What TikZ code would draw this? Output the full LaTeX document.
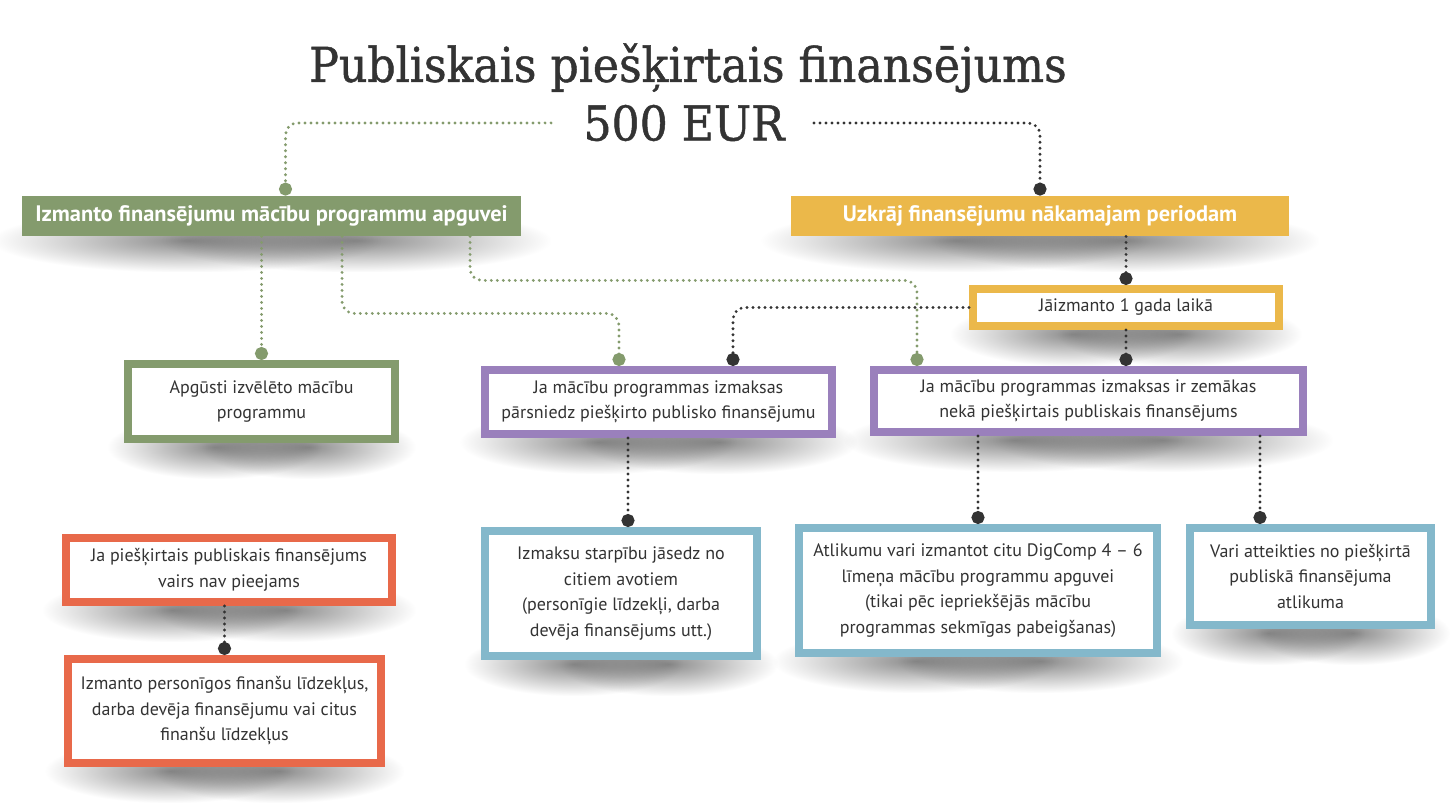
\documentclass[tikz,border=0pt]{standalone}
\usepackage{fontspec}
\setmainfont{PT Sans}
\newfontfamily\titlefont[FakeStretch=0.92,FakeBold=1]{DejaVu Serif}
\usetikzlibrary{calc,arrows.meta,backgrounds,fadings}

\definecolor{grn}{HTML}{849B6D}
\definecolor{ylw}{HTML}{EBB84A}
\definecolor{prp}{HTML}{9A80BC}
\definecolor{blu}{HTML}{84B8CB}
\definecolor{org}{HTML}{E8694A}
\definecolor{txt}{HTML}{333333}

\tikzfading[name=soft, inner color=transparent!55, outer color=transparent!100]

\tikzset{
  box/.style={draw=#1, line width=4pt, fill=white, align=center, inner sep=0pt,
              text=txt, font=\fontsize{9}{12.8}\selectfont},
  hdr/.style={fill=#1, align=center, inner sep=0pt, text=white,
              font=\fontsize{11.2}{13}\selectfont\bfseries, minimum height=20pt},
  ttl/.style={inner sep=0pt, text=txt, font=\titlefont\fontsize{24}{30}\selectfont},
  link/.style={draw=#1, line width=1.6pt, line cap=round, dash pattern=on 0pt off 3pt,
               rounded corners=6pt, -{Circle[length=6.5pt,width=6.5pt]}},
}

\begin{document}
\begin{tikzpicture}[x=0.5pt, y=-0.5pt]
  \useasboundingbox (0,0) rectangle (1454,807);

  \node[ttl] (t1) at (688,68) {Publiskais piešķirtais finansējums};
  \node[ttl] (t2) at (684,123) {500 EUR};

  \node[hdr=grn, minimum width=249.5pt] (izm) at (271.5,216) {Izmanto finansējumu mācību programmu apguvei};
  \node[hdr=ylw, minimum width=249pt] (uzk) at (1040,216) {Uzkrāj finansējumu nākamajam periodam};
  \node[box=ylw, minimum width=153pt, minimum height=18.5pt] (gad) at (1126,307.5) {Jāizmanto 1 gada laikā};

  \node[box=grn, minimum width=133.5pt, minimum height=37.5pt] (apg) at (261.5,401.5)
       {Apgūsti izvēlēto mācību\\programmu};
  \node[box=prp, minimum width=173.5pt, minimum height=32pt] (par) at (658.5,402)
       {Ja mācību programmas izmaksas\\pārsniedz piešķirto publisko finansējumu};
  \node[box=prp, minimum width=214.5pt, minimum height=31pt] (zem) at (1088.5,401)
       {Ja mācību programmas izmaksas ir zemākas\\nekā piešķirtais publiskais finansējums};

  \node[box=blu, minimum width=136pt, minimum height=62.5pt] (bl1) at (621,593.5)
       {Izmaksu starpību jāsedz no\\citiem avotiem\\(personīgie līdzekļi, darba\\devēja finansējums utt.)};
  \node[box=blu, minimum width=179pt, minimum height=62.5pt] (bl2) at (978,590.5)
       {Atlikumu vari izmantot citu DigComp 4 -- 6\\līmeņa mācību programmu apguvei\\(tikai pēc iepriekšējās mācību\\programmas sekmīgas pabeigšanas)};
  \node[box=blu, minimum width=120.5pt, minimum height=48.5pt] (bl3) at (1310.5,576.5)
       {Vari atteikties no piešķirtā\\publiskā finansējuma\\atlikuma};

  \node[box=org, minimum width=163pt, minimum height=32pt] (or1) at (229,570)
       {Ja piešķirtais publiskais finansējums\\vairs nav pieejams};
  \node[box=org, minimum width=156.5pt, minimum height=52pt] (or2) at (224.5,711)
       {Izmanto personīgos finanšu līdzekļus,\\darba devēja finansējumu vai citus\\finanšu līdzekļus};

  \begin{scope}[on background layer]
    \foreach \b in {izm,uzk,gad,apg,par,zem,bl1,bl2,bl3,or1,or2} {
      \fill[black, path fading=soft] let \p1=(\b.south west), \p2=(\b.south east), \n1={\x2-\x1} in
        (\x1-0.06*\n1, \y1+14pt) rectangle (\x1+0.72*\n1, \y1-18pt);
      \fill[black, path fading=soft] let \p1=(\b.south west), \p2=(\b.south east), \n1={\x2-\x1} in
        (\x2-0.72*\n1, \y1+14pt) rectangle (\x2+0.06*\n1, \y1-18pt);
    }
  \end{scope}

  \draw[link=grn] ([xshift=-16pt]t2.west) -| ($(izm.north)+(14,0)$);
  \draw[link=txt] ([xshift=14.5pt]t2.east) -| (uzk.north);
  \draw[link=txt] (gad.north |- uzk.south) -- (gad.north);
  \draw[link=txt] (gad.south) -- (gad.south |- zem.north);
  \draw[link=txt] (gad.west) -| ($(par.north)+(74.5,0)$);
  \draw[link=grn] (apg.north |- izm.south) -- (apg.north);
  \draw[link=grn] ($(izm.south)+(70.5,0)$) -- ++(0,77) -| ($(par.north)+(-39.5,0)$);
  \draw[link=grn] ($(izm.south)+(198.5,0)$) -- ++(0,44) -| ($(zem.north)+(-171.5,0)$);
  \draw[link=txt] ($(bl1.north |- par.south)+(7,0)$) -- ($(bl1.north)+(7,0)$);
  \draw[link=txt] (bl2.north |- zem.south) -- (bl2.north);
  \draw[link=txt] ($(bl3.north |- zem.south)+(-50.5,0)$) -- ($(bl3.north)+(-50.5,0)$);
  \draw[link=txt] (or2.north |- or1.south) -- (or2.north);
\end{tikzpicture}
\end{document}
